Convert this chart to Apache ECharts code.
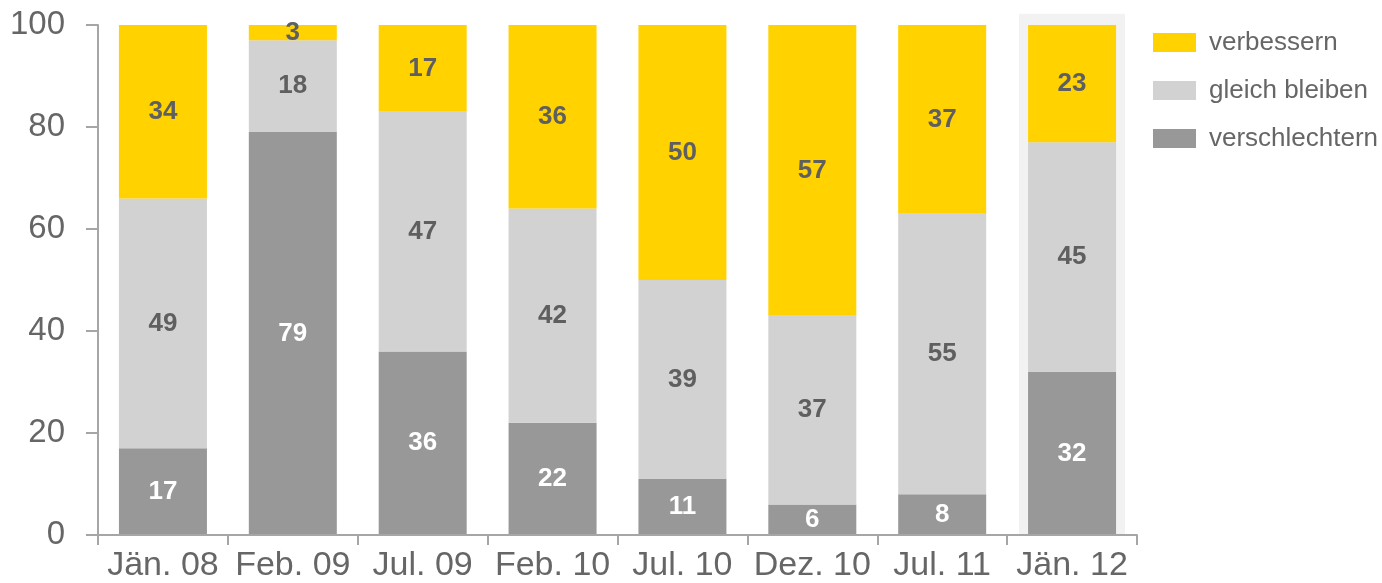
<!DOCTYPE html>
<html>
<head>
    <meta charset="utf-8">
    <title>Erwartung</title>
    <script src="https://cdn.jsdelivr.net/npm/echarts@6/dist/echarts.min.js"></script>
    <style>
        html, body { margin: 0; padding: 0; background: #fff; }
        #chart { width: 1382px; height: 583px; }
    </style>
</head>
<body>
    <div id="chart"></div>
    <script type="text/javascript">
        // Daten
        var categories = ['Jän. 08', 'Feb. 09', 'Jul. 09', 'Feb. 10', 'Jul. 10', 'Dez. 10', 'Jul. 11', 'Jän. 12'];
        var verschlechtern = [17, 79, 36, 22, 11, 6, 8, 32];
        var gleichBleiben = [49, 18, 47, 42, 39, 37, 55, 45];
        var verbessern = [34, 3, 17, 36, 50, 57, 37, 23];
        var highlight = [null, null, null, null, null, null, null, 102.2];
        var yTicks = [0, 20, 40, 60, 80, 100];

        var myChart = echarts.init(document.getElementById('chart'));

        var labelDark = { show: true, color: '#5f5f5f', fontSize: 26, fontWeight: 'bold', fontFamily: 'Liberation Sans' };
        var labelWhite = { show: true, color: '#ffffff', fontSize: 26, fontWeight: 'bold', fontFamily: 'Liberation Sans' };

        var option = {
            animation: false,
            grid: { left: 98, right: 245, top: 25, bottom: 48 },
            legend: {
                data: ['verbessern', 'gleich bleiben', 'verschlechtern'],
                orient: 'vertical',
                left: 1148,
                top: 24,
                itemWidth: 43,
                itemHeight: 19,
                itemGap: 21,
                icon: 'rect',
                textStyle: { color: '#666', fontSize: 26, lineHeight: 27, fontFamily: 'Liberation Sans', padding: [0, 0, 0, 8] }
            },
            xAxis: [
                {
                    type: 'category',
                    data: categories,
                    z: 5,
                    axisLine: { lineStyle: { color: '#a6a6a6', width: 2 } },
                    axisTick: { show: true, length: 10, lineStyle: { color: '#a6a6a6', width: 2 } },
                    axisLabel: { color: '#666', fontSize: 34, fontFamily: 'Liberation Sans', margin: 14, interval: 0 }
                },
                { type: 'category', data: categories, show: false }
            ],
            yAxis: [
                {
                    type: 'value',
                    min: yTicks[0],
                    max: yTicks[yTicks.length - 1],
                    interval: 20,
                    z: 5,
                    splitLine: { show: false },
                    axisLine: { show: true, lineStyle: { color: '#a6a6a6', width: 2 } },
                    axisTick: { show: true, length: 12, lineStyle: { color: '#a6a6a6', width: 2 } },
                    axisLabel: { color: '#666', fontSize: 33, fontFamily: 'Liberation Sans', margin: 33 }
                },
                { type: 'value', min: 0, max: 100, show: false }
            ],
            series: [
                {
                    name: 'hintergrund',
                    type: 'bar',
                    xAxisIndex: 1,
                    yAxisIndex: 1,
                    data: highlight,
                    barWidth: 106,
                    clip: false,
                    silent: true,
                    z: 1,
                    itemStyle: { color: '#f2f2f2' }
                },
                {
                    name: 'verschlechtern',
                    type: 'bar',
                    stack: 'gesamt',
                    barWidth: 88,
                    z: 2,
                    data: verschlechtern,
                    itemStyle: { color: '#989898' },
                    label: labelWhite
                },
                {
                    name: 'gleich bleiben',
                    type: 'bar',
                    stack: 'gesamt',
                    barWidth: 88,
                    z: 2,
                    data: gleichBleiben,
                    itemStyle: { color: '#d2d2d2' },
                    label: labelDark
                },
                {
                    name: 'verbessern',
                    type: 'bar',
                    stack: 'gesamt',
                    barWidth: 88,
                    z: 2,
                    data: verbessern,
                    itemStyle: { color: '#ffd200' },
                    label: labelDark
                }
            ]
        };

        myChart.setOption(option);
    </script>
</body>
</html>
